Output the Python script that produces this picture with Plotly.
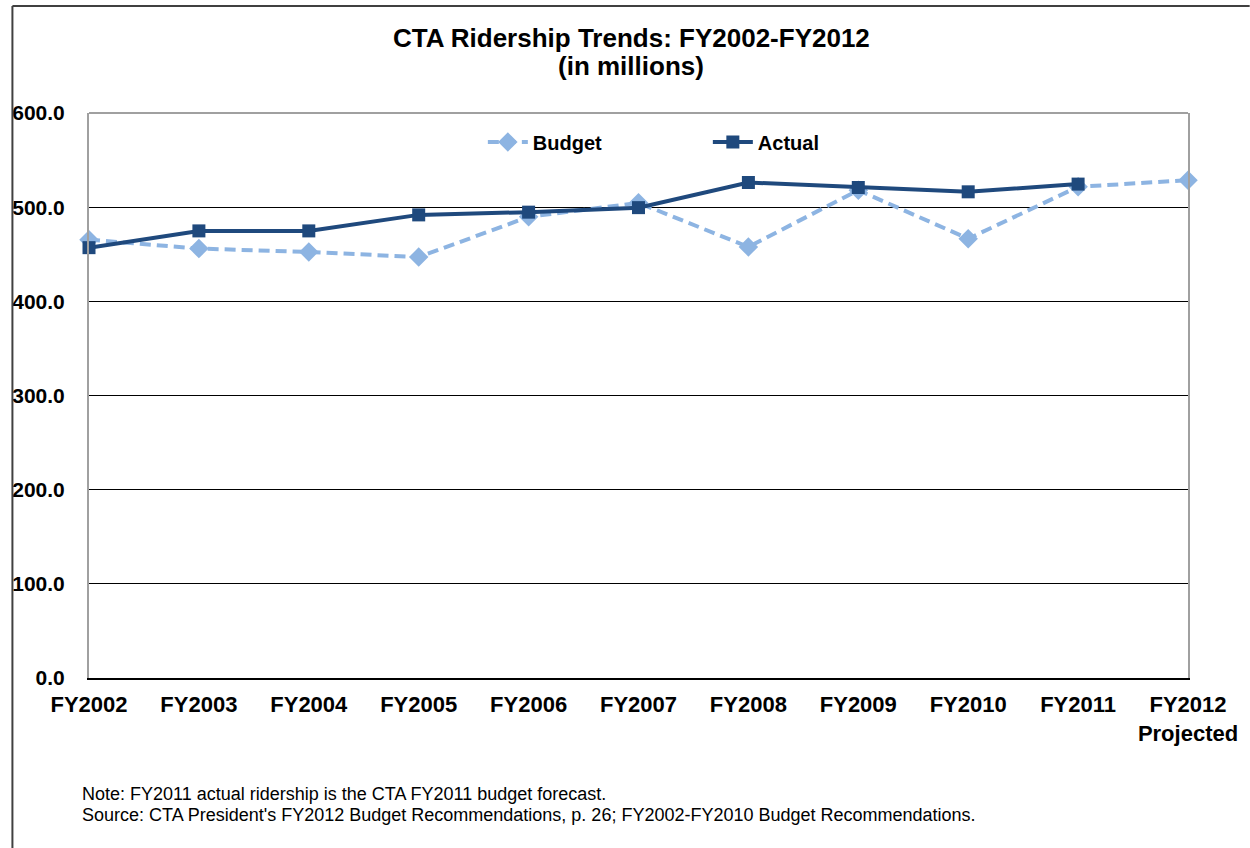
import plotly.graph_objects as go

categories = ["FY2002", "FY2003", "FY2004", "FY2005", "FY2006", "FY2007",
              "FY2008", "FY2009", "FY2010", "FY2011", "FY2012<br>Projected"]
budget = [465.5, 456.0, 452.5, 447.0, 489.7, 504.6, 457.8, 518.0, 466.5, 521.6, 528.7]
actual = [457.0, 474.8, 474.8, 491.8, 494.7, 499.5, 526.2, 520.9, 516.3, 524.5, None]
y_ticks = [0, 100, 200, 300, 400, 500, 600]
y_ticktext = ["0.0", "100.0", "200.0", "300.0", "400.0", "500.0", "600.0"]

FONT = "Liberation Sans, Arial, sans-serif"
BUDGET_COLOR = "#8DB4E2"
ACTUAL_COLOR = "#1F497D"

xpos = list(range(len(categories)))

fig = go.Figure()
fig.add_trace(go.Scatter(
    x=xpos, y=budget, name="Budget", mode="lines+markers",
    line=dict(color=BUDGET_COLOR, width=4, dash="11px,6px"),
    marker=dict(symbol="diamond", size=15, color=BUDGET_COLOR),
    cliponaxis=False,
))
fig.add_trace(go.Scatter(
    x=xpos, y=actual, name="Actual", mode="lines+markers",
    line=dict(color=ACTUAL_COLOR, width=4),
    marker=dict(symbol="square", size=13, color=ACTUAL_COLOR),
    cliponaxis=False,
))

W, H = 1250, 848
L, R, T, B = 85, 60, 113, 170
pw, ph = W - L - R, H - T - B

def px_x(x):
    return (x - L) / pw

def px_y(y):
    return (H - B - y) / ph

fig.update_layout(
    width=W, height=H,
    margin=dict(l=L, r=R, t=T, b=B, pad=0),
    paper_bgcolor="white", plot_bgcolor="white",
    font=dict(family=FONT, color="black"),
    showlegend=True,
    legend=dict(
        orientation="h", x=px_x(481), y=px_y(142), xanchor="left", yanchor="middle",
        font=dict(size=20, weight="bold", family=FONT),
        bgcolor="rgba(0,0,0,0)", entrywidth=170, entrywidthmode="pixels",
        itemwidth=40,
    ),
    xaxis=dict(
        range=[0, 10], tickmode="array", tickvals=xpos, ticktext=categories,
        showgrid=False, zeroline=False, showline=True, linecolor="black", linewidth=2,
        ticks="", tickfont=dict(size=22, weight="bold", family=FONT),
        ticklabelstandoff=6,
    ),
    yaxis=dict(
        range=[0, 600], tickmode="array", tickvals=y_ticks, ticktext=y_ticktext,
        showgrid=True, gridcolor="black", gridwidth=1, zeroline=False,
        showline=True, linecolor="#A0A0A0", linewidth=2, mirror=True,
        ticks="", tickfont=dict(size=21, weight="bold", family=FONT),
        ticklabelstandoff=18,
    ),
    shapes=[
        dict(type="line", xref="paper", yref="paper", x0=0, x1=1, y0=1, y1=1,
             line=dict(color="#A0A0A0", width=2), layer="above"),
        dict(type="line", xref="paper", yref="paper", x0=px_x(8), x1=px_x(1252),
             y0=px_y(6), y1=px_y(6), line=dict(color="#404040", width=2)),
        dict(type="line", xref="paper", yref="paper", x0=px_x(8), x1=px_x(8),
             y0=px_y(6), y1=px_y(852), line=dict(color="#404040", width=2)),
    ],
    annotations=[
        dict(text="CTA Ridership Trends: FY2002-FY2012", xref="paper", yref="paper",
             x=px_x(630), y=px_y(38), xanchor="center", yanchor="middle", showarrow=False,
             font=dict(size=26, weight="bold", family=FONT)),
        dict(text="(in millions)", xref="paper", yref="paper",
             x=px_x(630), y=px_y(66), xanchor="center", yanchor="middle", showarrow=False,
             font=dict(size=26, weight="bold", family=FONT)),
        dict(text="Note: FY2011 actual ridership is the CTA FY2011 budget forecast.",
             xref="paper", yref="paper", x=px_x(76), y=px_y(794), xanchor="left",
             yanchor="middle", showarrow=False, font=dict(size=18, family=FONT)),
        dict(text="Source: CTA President's FY2012 Budget Recommendations, p. 26; FY2002-FY2010 Budget Recommendations.",
             xref="paper", yref="paper", x=px_x(76), y=px_y(815), xanchor="left",
             yanchor="middle", showarrow=False, font=dict(size=18, family=FONT)),
    ],
)

fig.write_html("out.html",
               config={"displayModeBar": False},
               post_script="document.body.style.margin='0';document.body.style.overflow='hidden';")
